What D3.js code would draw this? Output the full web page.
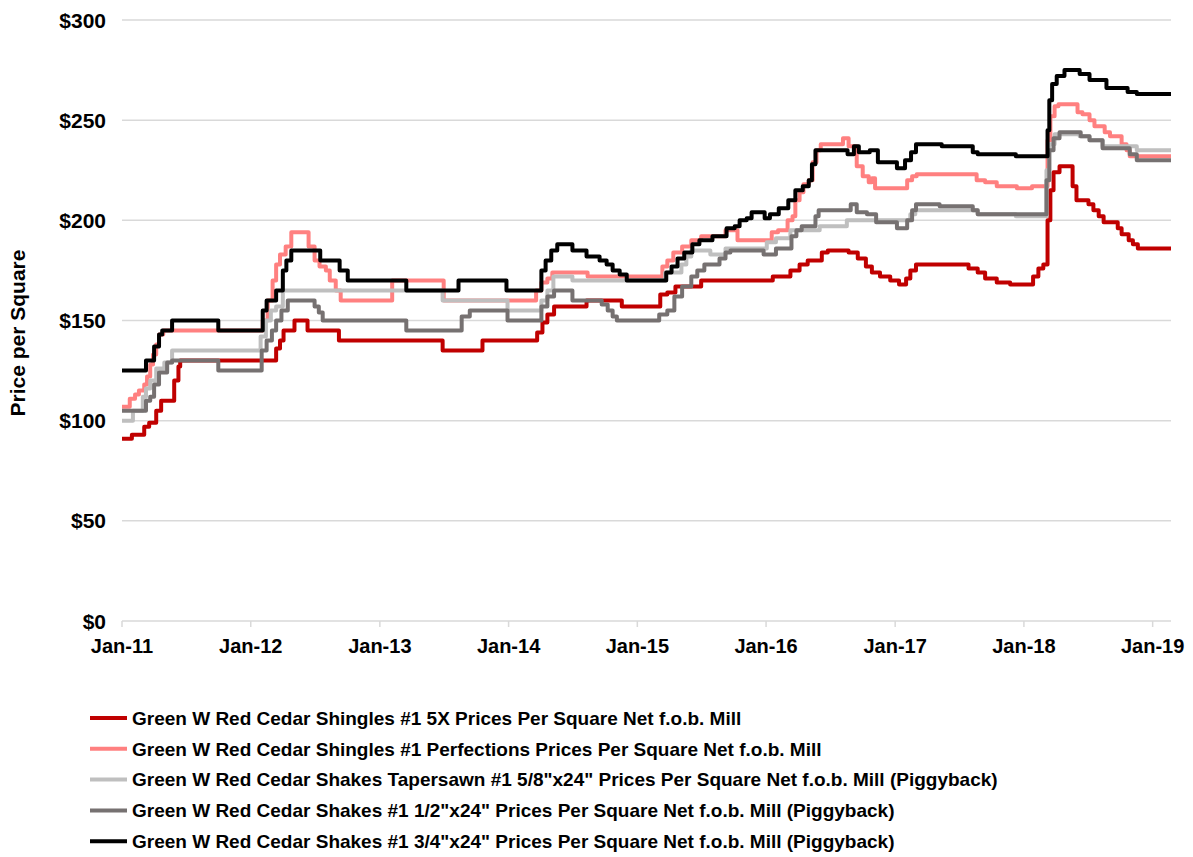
<!DOCTYPE html>
<html>
<head>
<meta charset="utf-8">
<script src="https://cdn.jsdelivr.net/npm/d3@7"></script>
<style>
  body { margin: 0; background: #fff; }
  text { font-family: "Liberation Sans", Arial, sans-serif; font-weight: bold; fill: #000; }
</style>
</head>
<body>
<svg id="chart" width="1193" height="857"></svg>
<script>
// weekly price series, kept as the dates where the price changed
const shingles5X = [
  ["2011-01-01", 91], ["2011-01-29", 93], ["2011-03-05", 97], ["2011-03-19", 99], ["2011-04-08", 105],
  ["2011-04-22", 110], ["2011-05-29", 120], ["2011-06-10", 127], ["2011-06-15", 130], ["2012-03-13", 136],
  ["2012-03-24", 140], ["2012-04-03", 145], ["2012-05-04", 150], ["2012-06-10", 145], ["2012-09-07", 140],
  ["2013-06-28", 135], ["2013-10-19", 140], ["2014-03-23", 144], ["2014-04-07", 149], ["2014-04-21", 153],
  ["2014-05-10", 157], ["2014-08-10", 160], ["2014-11-18", 157], ["2015-03-07", 163], ["2015-03-27", 164],
  ["2015-04-19", 167], ["2015-07-01", 170], ["2016-01-20", 172], ["2016-03-10", 175], ["2016-04-05", 178],
  ["2016-04-28", 180], ["2016-06-07", 184], ["2016-06-24", 185], ["2016-08-22", 184], ["2016-09-17", 181],
  ["2016-10-10", 177], ["2016-10-27", 174], ["2016-11-19", 172], ["2016-12-18", 170], ["2017-01-12", 168],
  ["2017-02-01", 171], ["2017-02-13", 175], ["2017-03-01", 178], ["2017-07-28", 176], ["2017-08-23", 174],
  ["2017-09-13", 171], ["2017-10-16", 169], ["2017-11-23", 168], ["2018-01-27", 172], ["2018-02-11", 176],
  ["2018-02-25", 178], ["2018-03-09", 200], ["2018-03-17", 215], ["2018-03-26", 224], ["2018-04-12", 227],
  ["2018-05-19", 217], ["2018-05-30", 210], ["2018-07-03", 208], ["2018-07-17", 205], ["2018-08-01", 202],
  ["2018-08-15", 199], ["2018-09-24", 196], ["2018-10-05", 193], ["2018-10-25", 190], ["2018-11-06", 188],
  ["2018-11-20", 186], ["2019-02-22", 186]
];
const shinglesPerfections = [
  ["2011-01-01", 107], ["2011-01-23", 111], ["2011-02-07", 113], ["2011-02-18", 115], ["2011-03-05", 118],
  ["2011-03-13", 122], ["2011-03-22", 128], ["2011-03-30", 133], ["2011-04-08", 138], ["2011-04-16", 143],
  ["2011-04-28", 145], ["2012-02-04", 150], ["2012-02-18", 160], ["2012-03-03", 170], ["2012-03-13", 178],
  ["2012-03-24", 183], ["2012-04-09", 187], ["2012-04-25", 194], ["2012-06-13", 187], ["2012-06-30", 180],
  ["2012-07-14", 177], ["2012-08-01", 175], ["2012-08-12", 170], ["2012-08-29", 165], ["2012-09-12", 160],
  ["2013-02-05", 170], ["2013-07-01", 160], ["2014-03-20", 165], ["2014-04-04", 169], ["2014-04-21", 171],
  ["2014-05-05", 174], ["2014-08-13", 172], ["2015-03-13", 177], ["2015-03-27", 180], ["2015-04-13", 184],
  ["2015-05-08", 187], ["2015-06-03", 190], ["2015-07-01", 192], ["2015-09-08", 195], ["2015-10-12", 190],
  ["2016-01-17", 194], ["2016-02-04", 195], ["2016-03-02", 200], ["2016-03-16", 202], ["2016-03-24", 210],
  ["2016-04-05", 214], ["2016-04-16", 218], ["2016-05-01", 220], ["2016-05-12", 229], ["2016-05-23", 235],
  ["2016-06-04", 238], ["2016-08-06", 241], ["2016-08-22", 237], ["2016-09-14", 227], ["2016-10-01", 222],
  ["2016-10-18", 219], ["2016-10-27", 221], ["2016-11-05", 216], ["2017-02-04", 220], ["2017-02-18", 222],
  ["2017-03-03", 223], ["2017-08-20", 220], ["2017-09-13", 219], ["2017-10-16", 217], ["2017-12-12", 216],
  ["2018-01-24", 217], ["2018-03-09", 240], ["2018-03-17", 252], ["2018-03-29", 257], ["2018-04-09", 258],
  ["2018-06-02", 254], ["2018-06-16", 253], ["2018-07-06", 250], ["2018-07-20", 247], ["2018-08-18", 244],
  ["2018-09-02", 242], ["2018-10-05", 238], ["2018-10-19", 235], ["2018-10-28", 232], ["2019-02-22", 232]
];
const shakesTapersawn = [
  ["2011-01-01", 100], ["2011-02-01", 105], ["2011-03-01", 112], ["2011-03-10", 116], ["2011-03-22", 120],
  ["2011-04-08", 126], ["2011-05-01", 129], ["2011-05-23", 135], ["2012-01-29", 142], ["2012-02-13", 150],
  ["2012-02-27", 155], ["2012-03-13", 157], ["2012-04-01", 165], ["2013-06-28", 160], ["2013-12-29", 155],
  ["2014-04-04", 160], ["2014-04-21", 165], ["2014-05-08", 172], ["2014-07-01", 170], ["2015-03-21", 174],
  ["2015-05-06", 178], ["2015-05-20", 182], ["2015-06-03", 185], ["2015-07-27", 183], ["2015-09-08", 186],
  ["2016-01-03", 189], ["2016-01-29", 191], ["2016-03-10", 195], ["2016-06-01", 197], ["2016-08-17", 200],
  ["2017-02-13", 203], ["2017-02-27", 205], ["2017-08-23", 203], ["2017-12-09", 202], ["2018-03-06", 225],
  ["2018-03-14", 238], ["2018-03-29", 243], ["2018-06-08", 242], ["2018-07-06", 240], ["2018-08-12", 237],
  ["2018-11-17", 235], ["2019-02-22", 235]
];
const shakesHalfInch = [
  ["2011-01-01", 105], ["2011-03-10", 110], ["2011-03-22", 112], ["2011-04-02", 118], ["2011-04-16", 124],
  ["2011-05-09", 129], ["2011-05-23", 130], ["2011-10-01", 125], ["2012-02-01", 135], ["2012-02-15", 140],
  ["2012-03-01", 145], ["2012-03-13", 150], ["2012-03-28", 155], ["2012-04-15", 160], ["2012-06-30", 157],
  ["2012-07-12", 154], ["2012-07-23", 150], ["2013-03-17", 145], ["2013-08-21", 152], ["2013-09-13", 155],
  ["2013-12-29", 150], ["2014-04-04", 157], ["2014-04-21", 162], ["2014-05-10", 165], ["2014-07-01", 160],
  ["2014-09-22", 158], ["2014-10-09", 155], ["2014-10-23", 152], ["2014-11-04", 150], ["2015-03-04", 153],
  ["2015-03-27", 155], ["2015-04-16", 162], ["2015-05-08", 167], ["2015-06-03", 172], ["2015-06-20", 175],
  ["2015-07-10", 178], ["2015-08-22", 181], ["2015-09-08", 184], ["2015-09-22", 185], ["2015-12-25", 183],
  ["2016-01-29", 186], ["2016-03-13", 192], ["2016-03-27", 195], ["2016-04-11", 197], ["2016-05-20", 202],
  ["2016-05-29", 205], ["2016-08-28", 208], ["2016-09-14", 204], ["2016-10-13", 203], ["2016-11-08", 199],
  ["2017-01-06", 196], ["2017-02-04", 200], ["2017-02-18", 205], ["2017-03-01", 208], ["2017-05-07", 207],
  ["2017-08-09", 205], ["2017-08-23", 203], ["2018-03-06", 220], ["2018-03-14", 235], ["2018-03-26", 241],
  ["2018-04-12", 244], ["2018-06-11", 242], ["2018-07-06", 240], ["2018-08-12", 236], ["2018-10-28", 233],
  ["2018-11-17", 230], ["2019-02-22", 230]
];
const shakesThreeQuarter = [
  ["2011-01-01", 125], ["2011-03-10", 130], ["2011-04-02", 137], ["2011-04-16", 143], ["2011-04-25", 145],
  ["2011-05-23", 150], ["2011-10-01", 145], ["2012-02-04", 155], ["2012-02-15", 160], ["2012-03-13", 165],
  ["2012-04-01", 175], ["2012-04-11", 180], ["2012-04-25", 185], ["2012-07-16", 180], ["2012-09-09", 175],
  ["2012-10-02", 170], ["2013-03-17", 165], ["2013-08-12", 170], ["2013-12-26", 165], ["2014-04-04", 175],
  ["2014-04-16", 180], ["2014-05-02", 185], ["2014-05-19", 188], ["2014-07-01", 185], ["2014-08-10", 182],
  ["2014-09-16", 180], ["2014-10-06", 178], ["2014-10-23", 175], ["2014-11-12", 173], ["2014-12-02", 170],
  ["2015-03-24", 174], ["2015-04-08", 177], ["2015-04-25", 181], ["2015-05-14", 184], ["2015-06-06", 188],
  ["2015-06-26", 190], ["2015-08-02", 192], ["2015-09-11", 196], ["2015-10-04", 197], ["2015-10-18", 200],
  ["2015-11-07", 201], ["2015-11-21", 204], ["2015-12-28", 201], ["2016-01-12", 203], ["2016-02-06", 206],
  ["2016-03-04", 210], ["2016-03-24", 215], ["2016-04-14", 217], ["2016-05-01", 220], ["2016-05-10", 228],
  ["2016-05-20", 235], ["2016-08-19", 233], ["2016-09-06", 237], ["2016-09-20", 234], ["2016-10-21", 235],
  ["2016-11-13", 229], ["2017-01-06", 226], ["2017-01-29", 230], ["2017-02-15", 234], ["2017-03-01", 238],
  ["2017-05-13", 237], ["2017-08-09", 234], ["2017-08-23", 233], ["2017-12-09", 232], ["2018-03-09", 245],
  ["2018-03-14", 260], ["2018-03-22", 268], ["2018-04-04", 272], ["2018-04-26", 275], ["2018-06-08", 273],
  ["2018-07-06", 270], ["2018-08-23", 266], ["2018-10-22", 264], ["2018-11-17", 263], ["2019-02-22", 263]
];

const seriesNames = [
  "Green W Red Cedar Shingles #1 5X Prices Per Square Net f.o.b. Mill",
  "Green W Red Cedar Shingles #1 Perfections Prices Per Square Net f.o.b. Mill",
  "Green W Red Cedar Shakes Tapersawn #1 5/8\"x24\" Prices Per Square Net f.o.b. Mill (Piggyback)",
  "Green W Red Cedar Shakes #1 1/2\"x24\" Prices Per Square Net f.o.b. Mill (Piggyback)",
  "Green W Red Cedar Shakes #1 3/4\"x24\" Prices Per Square Net f.o.b. Mill (Piggyback)"
];
const seriesColors = ["#C00000", "#FF8080", "#BFBFBF", "#767171", "#000000"];
const yTicks = [0, 50, 100, 150, 200, 250, 300];
const xTickYears = [2011, 2012, 2013, 2014, 2015, 2016, 2017, 2018, 2019];

const parse = d3.timeParse("%Y-%m-%d");
const allSeries = [shingles5X, shinglesPerfections, shakesTapersawn, shakesHalfInch, shakesThreeQuarter]
  .map((s, i) => ({ name: seriesNames[i], color: seriesColors[i], values: s.map(d => ({ date: parse(d[0]), value: d[1] })) }));

var svg = d3.select("#chart");

var x = d3.scaleTime()
  .domain([new Date(2011, 0, 1), new Date(2019, 1, 22)])
  .range([122, 1171]);
var y = d3.scaleLinear()
  .domain([0, 300])
  .range([621, 20]);

// horizontal gridlines
svg.append("g")
  .selectAll("line")
  .data(yTicks)
  .enter()
  .append("line")
  .attr("x1", x.range()[0])
  .attr("x2", x.range()[1])
  .attr("y1", d => y(d))
  .attr("y2", d => y(d))
  .attr("stroke", "#D9D9D9")
  .attr("stroke-width", 1.5);

// y axis labels
svg.append("g")
  .selectAll("text")
  .data(yTicks)
  .enter()
  .append("text")
  .attr("x", 106)
  .attr("y", d => y(d))
  .attr("dy", "0.36em")
  .attr("text-anchor", "end")
  .style("font-size", "21px")
  .text(d => "$" + d);

// x axis: small tick marks and labels
const xTicks = xTickYears.map(yr => new Date(yr, 0, 1));
svg.append("g")
  .selectAll("line")
  .data(xTicks)
  .enter()
  .append("line")
  .attr("x1", d => x(d))
  .attr("x2", d => x(d))
  .attr("y1", y(0))
  .attr("y2", y(0) + 6)
  .attr("stroke", "#D9D9D9")
  .attr("stroke-width", 1.5);

svg.append("g")
  .selectAll("text")
  .data(xTicks)
  .enter()
  .append("text")
  .attr("x", d => x(d))
  .attr("y", 653)
  .attr("text-anchor", "middle")
  .style("font-size", "20px")
  .text(d3.timeFormat("%b-%y"));

// y axis title
svg.append("text")
  .attr("transform", "translate(25,333) rotate(-90)")
  .attr("text-anchor", "middle")
  .style("font-size", "21px")
  .text("Price per Square");

// the lines
var line = d3.line()
  .x(d => x(d.date))
  .y(d => y(d.value))
  .curve(d3.curveStepAfter);

svg.append("g")
  .selectAll("path")
  .data(allSeries)
  .enter()
  .append("path")
  .attr("d", d => line(d.values))
  .attr("fill", "none")
  .attr("stroke", d => d.color)
  .attr("stroke-width", 4)
  .attr("stroke-linejoin", "round");

// legend
var legend = svg.append("g")
  .selectAll("g")
  .data(allSeries)
  .enter()
  .append("g")
  .attr("transform", (d, i) => `translate(0,${718 + i * 30.8})`);

legend.append("line")
  .attr("x1", 90)
  .attr("x2", 127)
  .attr("stroke", d => d.color)
  .attr("stroke-width", 4);

legend.append("text")
  .attr("x", 132)
  .attr("dy", "0.36em")
  .style("font-size", "19px")
  .text(d => d.name);
</script>
</body>
</html>
